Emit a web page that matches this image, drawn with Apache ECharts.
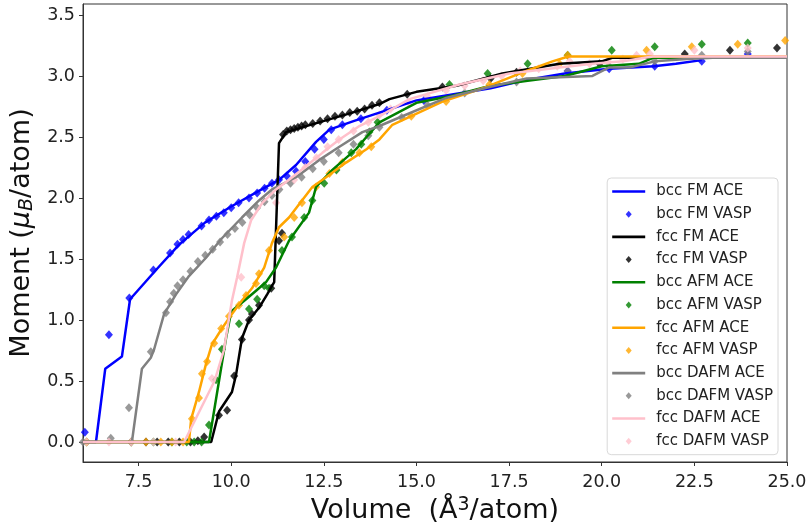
<!DOCTYPE html>
<html><head><meta charset="utf-8">
<script src="https://cdn.jsdelivr.net/npm/echarts@6/dist/echarts.min.js"></script>
<style>html,body{margin:0;padding:0;background:#fff}#c{width:809px;height:523px}</style>
</head><body><div id="c"></div>
<script>
const xTicks = [7.5, 10.0, 12.5, 15.0, 17.5, 20.0, 22.5, 25.0];
const yTicks = [0.0, 0.5, 1.0, 1.5, 2.0, 2.5, 3.0, 3.5];
const seriesNames = ['bcc FM ACE','bcc FM VASP','fcc FM ACE','fcc FM VASP','bcc AFM ACE','bcc AFM VASP','fcc AFM ACE','fcc AFM VASP','bcc DAFM ACE','bcc DAFM VASP','fcc DAFM ACE','fcc DAFM VASP'];

const bccFmAce = [[6.0,0],[6.35,0],[6.6,0.6],[7.05,0.7],[7.27,1.17],[8.0,1.42],[8.6,1.62],[9.3,1.8],[10.0,1.93],[10.7,2.05],[11.3,2.15],[11.75,2.27],[12.29,2.46],[12.65,2.56],[13.3,2.63],[14.0,2.7],[15.0,2.8],[16.0,2.85],[17.0,2.9],[18.0,2.97],[19.0,3.02],[20.2,3.06],[21.4,3.08],[22.0,3.1],[22.7,3.13]];
const bccFmVasp = [[6.05,0.08],[6.7,0.88],[7.25,1.18],[7.9,1.41],[8.35,1.55],[8.55,1.62],[8.7,1.66],[8.85,1.70],[9.2,1.77],[9.4,1.82],[9.6,1.85],[9.8,1.88],[10.0,1.92],[10.2,1.96],[10.48,2.0],[10.7,2.04],[10.9,2.08],[11.1,2.12],[11.29,2.15],[11.5,2.18],[11.75,2.22],[12.0,2.3],[12.25,2.4],[12.5,2.48],[12.7,2.56],[13.0,2.6],[13.5,2.65],[14.2,2.72],[15.2,2.8],[19.08,3.04],[20.2,3.06],[21.43,3.08],[22.7,3.12],[23.94,3.18]];
const fccFmAce = [[6.0,0],[9.46,0],[9.67,0.25],[10.02,0.41],[10.13,0.55],[10.29,0.85],[10.48,1.0],[10.75,1.1],[10.97,1.21],[11.16,1.31],[11.29,2.45],[11.48,2.54],[12.37,2.62],[13.27,2.7],[14.0,2.77],[14.27,2.81],[15.0,2.87],[16.08,2.92],[17.32,3.02],[18.86,3.1],[20.0,3.12],[20.3,3.15],[25.0,3.15]];
const fccFmVasp = [[7.7,0],[8.0,0],[8.3,0],[8.6,0],[8.9,0],[9.1,0.01],[9.27,0.04],[9.67,0.22],[9.89,0.26],[10.08,0.54],[10.29,0.84],[10.48,1.0],[10.56,1.05],[10.75,1.12],[11.08,1.26],[11.29,1.65],[11.37,1.71],[11.4,2.52],[11.5,2.55],[11.6,2.56],[11.7,2.57],[11.8,2.58],[11.9,2.59],[12.0,2.6],[12.2,2.61],[12.4,2.63],[12.6,2.65],[12.8,2.67],[13.0,2.68],[13.2,2.70],[13.4,2.71],[13.6,2.73],[13.8,2.76],[14.0,2.78],[14.75,2.85],[15.7,2.91],[17.0,2.98],[17.7,3.03],[19.94,3.1],[22.24,3.18],[23.46,3.21],[24.73,3.23]];
const bccAfmAce = [[6.0,0],[9.4,0],[9.86,0.85],[10.0,1.07],[10.4,1.17],[10.67,1.24],[10.94,1.31],[11.21,1.43],[11.56,1.65],[12.1,1.88],[12.29,2.09],[12.73,2.23],[13.37,2.4],[13.65,2.5],[14.0,2.62],[15.0,2.78],[16.0,2.84],[17.0,2.92],[18.0,2.96],[19.0,3.0],[20.0,3.08],[21.0,3.1],[21.4,3.15],[25.0,3.15]];
const bccAfmVasp = [[6.1,0],[7.3,0],[7.9,0],[8.4,0],[8.8,0],[9.0,0],[9.2,0],[9.4,0.14],[9.59,0.51],[9.75,0.76],[10.21,0.97],[10.48,1.09],[10.7,1.17],[10.89,1.28],[11.02,1.26],[11.37,1.57],[11.64,1.68],[11.97,1.84],[12.19,1.98],[12.51,2.12],[12.84,2.23],[13.24,2.37],[13.51,2.44],[13.73,2.54],[13.95,2.62],[15.89,2.93],[16.92,3.02],[18.0,3.1],[19.08,3.17],[20.27,3.21],[21.43,3.24],[22.7,3.26],[23.94,3.27]];
const fccAfmAce = [[6.0,0],[8.86,0],[8.92,0.19],[9.13,0.41],[9.32,0.64],[9.48,0.8],[9.75,0.93],[10.02,1.05],[10.29,1.16],[10.56,1.26],[10.89,1.43],[11.1,1.63],[11.29,1.76],[11.56,1.84],[11.91,1.98],[12.19,2.09],[12.56,2.17],[13.1,2.29],[13.65,2.4],[14.0,2.48],[14.35,2.6],[15.7,2.79],[16.89,2.91],[17.78,3.02],[18.67,3.12],[19.1,3.16],[25.0,3.16]];
const fccAfmVasp = [[6.1,0],[7.3,0],[7.7,0],[8.1,0],[8.4,0],[8.7,0],[8.94,0.19],[9.13,0.36],[9.21,0.56],[9.35,0.66],[9.54,0.81],[9.73,0.93],[9.94,1.03],[10.21,1.12],[10.4,1.2],[10.67,1.3],[10.75,1.38],[11.02,1.57],[11.43,1.68],[11.7,1.84],[11.91,1.96],[12.29,2.09],[12.65,2.2],[13.0,2.29],[13.46,2.37],[13.78,2.42],[14.86,2.67],[15.8,2.79],[16.97,2.93],[17.86,3.02],[18.86,3.1],[19.08,3.17],[21.21,3.21],[22.43,3.24],[23.67,3.26],[24.95,3.29]];
const bccDafmAce = [[6.0,0],[7.32,0],[7.59,0.6],[7.83,0.69],[7.92,0.76],[8.19,1.05],[8.51,1.21],[8.86,1.36],[9.32,1.51],[9.75,1.67],[10.29,1.84],[10.75,1.98],[11.1,2.07],[11.75,2.17],[12.37,2.31],[12.92,2.42],[13.54,2.54],[14.0,2.59],[14.62,2.67],[15.8,2.82],[16.97,2.91],[17.97,2.98],[18.86,2.99],[19.75,3.0],[20.2,3.07],[20.75,3.07],[21.43,3.12],[22.3,3.14],[23.0,3.15],[25.0,3.15]];
const bccDafmVasp = [[6.0,0],[6.75,0.03],[7.3,0],[7.24,0.28],[7.83,0.74],[8.24,1.06],[8.35,1.15],[8.45,1.22],[8.55,1.28],[8.7,1.33],[8.9,1.40],[9.1,1.48],[9.3,1.53],[9.5,1.58],[9.7,1.64],[9.9,1.70],[10.1,1.75],[10.3,1.80],[10.5,1.86],[10.7,1.92],[10.9,1.97],[11.1,2.02],[11.3,2.07],[11.6,2.12],[11.9,2.17],[12.2,2.24],[12.5,2.3],[12.9,2.37],[13.3,2.44],[13.7,2.51],[14.0,2.58],[14.6,2.66],[15.3,2.76],[16.3,2.86],[17.7,2.95],[19.08,3.04],[20.2,3.08],[21.43,3.12],[22.7,3.17],[23.94,3.2]];
const fccDafmAce = [[6.0,0],[8.73,0],[9.55,0.5],[9.8,0.75],[10.02,1.16],[10.16,1.35],[10.35,1.63],[10.54,1.82],[10.84,1.96],[11.21,2.07],[11.56,2.15],[12.02,2.26],[12.46,2.37],[12.92,2.48],[13.46,2.59],[14.0,2.67],[14.81,2.81],[16.16,2.93],[17.51,3.02],[18.86,3.07],[19.75,3.1],[20.57,3.12],[21.38,3.16],[25.0,3.16]];
const fccDafmVasp = [[6.1,0],[6.7,0],[7.3,0],[7.9,0],[8.5,0],[9.48,0.52],[10.27,1.35],[11.21,1.96],[11.7,2.15],[12.0,2.25],[12.3,2.33],[12.6,2.42],[12.9,2.48],[13.3,2.55],[13.7,2.62],[14.0,2.68],[14.3,2.73],[14.8,2.78],[15.3,2.83],[15.8,2.88],[16.3,2.92],[16.8,2.96],[17.3,3.0],[17.8,3.04],[18.3,3.06],[18.8,3.08],[19.13,3.12],[19.67,3.1],[20.16,3.12],[20.57,3.14],[20.94,3.17],[21.3,3.18],[22.5,3.21],[23.94,3.23]];

const colors = ['#0000ff','#000000','#008000','#ffa500','#808080','#ffc0cb'];
const dataSets = [bccFmAce,bccFmVasp,fccFmAce,fccFmVasp,bccAfmAce,bccAfmVasp,fccAfmAce,fccAfmVasp,bccDafmAce,bccDafmVasp,fccDafmAce,fccDafmVasp];

const series = dataSets.map((d,i)=>{
  const c = colors[Math.floor(i/2)];
  if (i%2===0) return {name:seriesNames[i],type:'line',data:d,symbol:'none',lineStyle:{color:c,width:2.5},itemStyle:{color:c},animation:false};
  return {name:seriesNames[i],type:'scatter',data:d,symbol:'diamond',symbolSize:[8,9],itemStyle:{color:c},animation:false};
});

const lineIcon = 'path://M0,0H33V2.6H0Z';
const diamondIcon = 'path://M3,0L6,3.5L3,7L0,3.5Z';
const font = 'DejaVu Sans';
const chart = echarts.init(document.getElementById('c'));
chart.setOption({
  animation:false,
  grid:{left:83,right:22,top:4,bottom:61,outerBoundsMode:'none',containLabel:false,show:true,borderColor:'#333',borderWidth:1,backgroundColor:'transparent'},
  legend:{
    orient:'vertical',right:31,top:178,
    symbolKeepAspect:true,
    data:seriesNames.map((n,i)=> ({name:n,icon: i%2===0 ? lineIcon : diamondIcon})),
    itemWidth:33,itemHeight:7,itemGap:7.7,
    padding:[6,5,6,5],
    borderColor:'#d8d8d8',borderWidth:1,borderRadius:4,backgroundColor:'rgba(255,255,255,0.85)',
    textStyle:{fontFamily:font,fontSize:15,color:'#222',padding:[0,0,0,6]}
  },
  xAxis:{type:'value',min:6.0,max:25.0,
    axisLine:{show:true,onZero:false,lineStyle:{color:'#333'}},
    splitLine:{show:false},
    axisTick:{show:true,length:4,lineStyle:{color:'#333'},customValues:xTicks},
    axisLabel:{customValues:xTicks,formatter:v=>v.toFixed(1),fontFamily:font,fontSize:17.5,color:'#222',margin:11},
    name:'Volume  (Å{sup|3}/atom)',nameLocation:'middle',nameGap:24,
    nameTextStyle:{fontFamily:font,fontSize:27,color:'#111',rich:{sup:{fontFamily:font,fontSize:19,color:'#111',verticalAlign:'top',padding:[0,0,12,0]}}}
  },
  yAxis:{type:'value',min:-0.164,max:3.59,
    axisLine:{show:true,onZero:false,lineStyle:{color:'#333'}},
    splitLine:{show:false},
    axisTick:{show:true,length:4,lineStyle:{color:'#333'},customValues:yTicks},
    axisLabel:{customValues:yTicks,formatter:v=>v.toFixed(1),fontFamily:font,fontSize:17.5,color:'#222',margin:8},
    name:'Moment ({it|μ}{sub|B}/atom)',nameLocation:'middle',nameGap:39,
    nameTextStyle:{fontFamily:font,fontSize:27,color:'#111',rich:{it:{fontFamily:font,fontSize:27,fontStyle:'italic',color:'#111'},sub:{fontFamily:font,fontSize:19,fontStyle:'italic',color:'#111',padding:[10,0,0,0]}}}
  },
  series:series
});
</script></body></html>
